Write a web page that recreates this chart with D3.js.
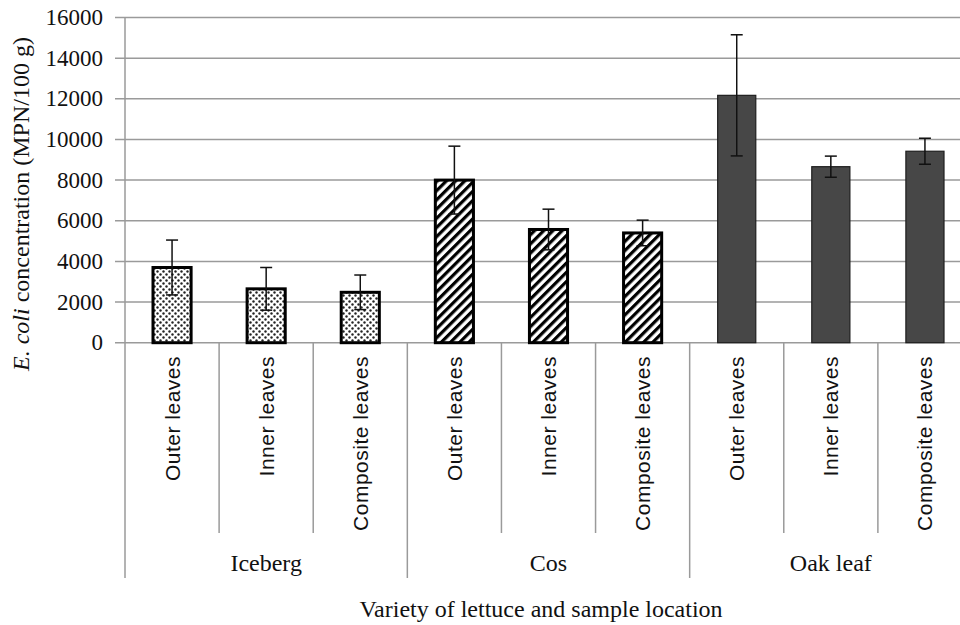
<!DOCTYPE html>
<meta charset="UTF-8">
<script src="https://d3js.org/d3.v7.min.js"></script>
<style>
body { margin: 0; background: #fff; }
</style>
<div id="my_dataviz"></div>
<script>

// data
var varieties = ["Iceberg", "Cos", "Oak leaf"]
var locations = ["Outer leaves", "Inner leaves", "Composite leaves"]
var means  = [3700, 2650, 2480,  8000, 5570, 5400,  12170, 8660, 9420]
var errors = [1350, 1050, 850,   1670, 1000, 630,   2980, 520, 640]
var yTicks = [0, 2000, 4000, 6000, 8000, 10000, 12000, 14000, 16000]

var width = 960
var height = 625

var svg = d3.select("#my_dataviz")
    .append("svg")
        .attr("width", width)
        .attr("height", height)

// patterns for the three varieties
var defs = svg.append("defs")

var dots = defs.append("pattern")
    .attr("id", "dots")
    .attr("patternUnits", "userSpaceOnUse")
    .attr("width", 6).attr("height", 6)
dots.append("rect").attr("width", 6).attr("height", 6).attr("fill", "#fff")
dots.append("circle").attr("cx", 1.5).attr("cy", 1.5).attr("r", 1.2).attr("fill", "#222")
dots.append("circle").attr("cx", 4.5).attr("cy", 4.5).attr("r", 1.2).attr("fill", "#222")

var stripes = defs.append("pattern")
    .attr("id", "stripes")
    .attr("patternUnits", "userSpaceOnUse")
    .attr("width", 6.5).attr("height", 10)
    .attr("patternTransform", "rotate(45)")
stripes.append("rect").attr("width", 6.5).attr("height", 10).attr("fill", "#fff")
stripes.append("rect").attr("width", 3.2).attr("height", 10).attr("fill", "#000")

var fills = ["url(#dots)", "url(#stripes)", "#474747"]
var borders = [3, 3, 1.2]

// build rows from the arrays
var data = []
varieties.forEach(function(v, i){
    locations.forEach(function(l, j){
        var k = i * locations.length + j
        data.push({key: v + "|" + l, variety: v, vi: i, location: l, mean: means[k], err: errors[k]})
    })
})

var plotLeft = 125, plotRight = 972, plotTop = 17.5, base = 342.7

var x = d3.scaleBand()
    .domain(data.map(function(d){ return d.key }))
    .range([plotLeft, plotRight])

var y = d3.scaleLinear()
    .domain([0, 16000])
    .range([base, plotTop])

var gridColor = "#9a9a9a"

// gridlines + ticks
svg.append("g")
    .selectAll("line")
    .data(yTicks)
    .enter()
    .append("line")
        .attr("x1", plotLeft - 10)
        .attr("x2", width)
        .attr("y1", function(d){ return y(d) })
        .attr("y2", function(d){ return y(d) })
        .attr("stroke", gridColor)
        .attr("stroke-width", 1.5)

svg.append("g")
    .selectAll("text")
    .data(yTicks)
    .enter()
    .append("text")
        .attr("x", 103)
        .attr("y", function(d){ return y(d) + 7.5 })
        .attr("text-anchor", "end")
        .style("font-family", "'Liberation Serif', 'Times New Roman', serif")
        .style("font-size", "23px")
        .style("fill", "#111")
        .text(function(d){ return d })

// vertical axis line
svg.append("line")
    .attr("x1", plotLeft).attr("x2", plotLeft)
    .attr("y1", plotTop).attr("y2", 578)
    .attr("stroke", gridColor).attr("stroke-width", 1.5)

// category dividers (short) and variety dividers (long)
var cats = x.domain()
svg.append("g")
    .selectAll("line")
    .data(cats)
    .enter()
    .append("line")
        .attr("x1", function(d){ return x(d) + x.bandwidth() })
        .attr("x2", function(d){ return x(d) + x.bandwidth() })
        .attr("y1", base)
        .attr("y2", function(d, i){ return (i + 1) % 3 === 0 ? 578 : 533 })
        .attr("stroke", gridColor)
        .attr("stroke-width", 1.5)

// bars
var barW = x.bandwidth() * 0.405
svg.append("g")
    .selectAll("rect")
    .data(data)
    .enter()
    .append("rect")
        .attr("x", function(d){ return x(d.key) + (x.bandwidth() - barW) / 2 })
        .attr("y", function(d){ return y(d.mean) })
        .attr("width", barW)
        .attr("height", function(d){ return base - y(d.mean) })
        .attr("fill", function(d){ return fills[d.vi] })
        .attr("stroke", function(d){ return d.vi === 2 ? "#1e1e1e" : "#000" })
        .attr("stroke-width", function(d){ return borders[d.vi] })

// error bars
var eb = svg.append("g")
    .selectAll("g")
    .data(data)
    .enter()
    .append("g")
        .attr("transform", function(d){ return "translate(" + (x(d.key) + x.bandwidth() / 2) + ",0)" })
        .attr("stroke", "#111")
        .attr("stroke-width", 1.5)

eb.append("line")
    .attr("y1", function(d){ return y(d.mean + d.err) })
    .attr("y2", function(d){ return y(d.mean - d.err) })
eb.append("line")
    .attr("x1", -6).attr("x2", 6)
    .attr("y1", function(d){ return y(d.mean + d.err) })
    .attr("y2", function(d){ return y(d.mean + d.err) })
eb.append("line")
    .attr("x1", -6).attr("x2", 6)
    .attr("y1", function(d){ return y(d.mean - d.err) })
    .attr("y2", function(d){ return y(d.mean - d.err) })

// location labels (rotated)
svg.append("g")
    .selectAll("text")
    .data(data)
    .enter()
    .append("text")
        .attr("transform", function(d){ return "translate(" + (x(d.key) + x.bandwidth() / 2 + 7.5) + ",356) rotate(-90)" })
        .attr("text-anchor", "end")
        .style("font-family", "'Liberation Sans', Arial, sans-serif")
        .style("font-size", "21px")
        .style("letter-spacing", "0.5px")
        .style("fill", "#111")
        .text(function(d){ return d.location })

// variety labels
svg.append("g")
    .selectAll("text")
    .data(varieties)
    .enter()
    .append("text")
        .attr("x", function(d, i){ return plotLeft + (i * 3 + 1.5) * x.bandwidth() })
        .attr("y", 571)
        .attr("text-anchor", "middle")
        .style("font-family", "'Liberation Serif', 'Times New Roman', serif")
        .style("font-size", "24px")
        .style("fill", "#111")
        .text(function(d){ return d })

// axis titles
svg.append("text")
    .attr("x", 541)
    .attr("y", 617)
    .attr("text-anchor", "middle")
    .style("font-family", "'Liberation Serif', 'Times New Roman', serif")
    .style("font-size", "24px")
    .style("fill", "#111")
    .text("Variety of lettuce and sample location")

var yt = svg.append("text")
    .attr("transform", "translate(29,204) rotate(-90)")
    .attr("text-anchor", "middle")
    .style("font-family", "'Liberation Serif', 'Times New Roman', serif")
    .style("font-size", "24px")
    .style("fill", "#111")
yt.append("tspan").style("font-style", "italic").text("E. coli")
yt.append("tspan").text(" concentration (MPN/100 g)")

</script>
